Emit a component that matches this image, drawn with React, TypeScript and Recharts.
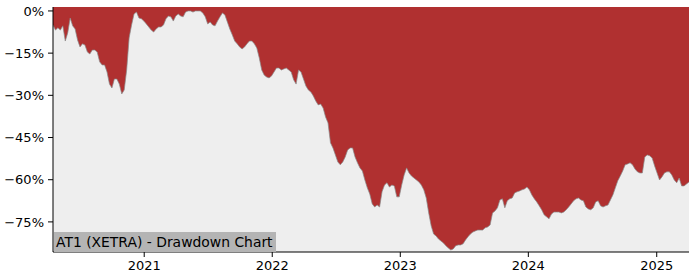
import React from 'react';
import { AreaChart, Area, XAxis, YAxis, CartesianGrid } from 'recharts';

// weekly drawdown readings (%), first week starting START_DATE
const START_DATE = '2020-04-16';
const drawdown = [
  -5.0, -6.8, -6.0, -6.8, -5.3, -10.7, -7.8, -2.5, -5.3, -6.4,
  -10.3, -12.8, -11.7, -12.1, -14.6, -15.3, -13.9, -13.9, -14.6, -18.1,
  -19.2, -19.2, -21.7, -26.0, -27.4, -24.2, -24.2, -26.0, -29.5, -28.1,
  -21.0, -9.6, -5.0, -1.1, -0.4, -2.5, -2.8, -3.6, -4.6, -5.7,
  -6.8, -7.5, -6.4, -5.7, -5.7, -5.0, -2.8, -1.8, -2.1, -3.6,
  -1.8, -1.1, -1.8, -2.1, -0.4, 0, 0, -0.4, 0, 0,
  0, -0.7, -2.1, -4.6, -3.9, -5.0, -5.3, -3.6, -2.1, -0.7,
  -1.4, -3.9, -6.4, -8.5, -10.7, -11.7, -12.8, -13.5, -12.8, -11.7,
  -10.7, -10.7, -11.7, -13.2, -16.7, -21.0, -22.8, -23.5, -23.8, -23.1,
  -21.7, -20.3, -20.3, -21.0, -20.6, -20.3, -21.0, -21.7, -24.5, -26.0,
  -21.0, -21.7, -24.2, -26.7, -28.1, -28.8, -30.2, -32.0, -33.4, -33.1,
  -34.5, -37.7, -39.8, -46.9, -48.7, -51.2, -53.7, -54.7, -53.7, -51.9,
  -49.4, -48.7, -48.7, -51.9, -54.0, -55.8, -56.9, -60.1, -62.9, -65.1,
  -68.6, -69.7, -69.0, -69.7, -64.3, -61.9, -61.1, -62.6, -61.9, -62.2,
  -66.1, -66.1, -61.9, -58.3, -55.8, -57.6, -58.7, -59.4, -60.1, -60.8,
  -61.9, -63.6, -66.5, -71.8, -76.4, -79.3, -80.0, -81.1, -81.8, -82.5,
  -83.5, -84.3, -85.0, -84.6, -83.5, -83.2, -83.2, -82.8, -81.4, -80.3,
  -79.3, -78.6, -78.2, -77.9, -77.9, -77.9, -77.1, -76.8, -76.1, -71.8,
  -71.1, -70.0, -67.2, -66.8, -70.0, -67.5, -66.8, -66.5, -64.7, -64.3,
  -64.0, -63.6, -63.3, -62.6, -63.6, -65.4, -66.8, -67.9, -69.3, -70.7,
  -72.5, -73.2, -73.9, -72.2, -71.5, -71.5, -71.5, -71.8, -71.5, -70.7,
  -69.7, -68.6, -67.5, -66.8, -66.5, -67.2, -67.5, -69.7, -70.4, -70.7,
  -70.0, -67.9, -67.5, -69.3, -69.7, -69.3, -69.0, -67.2, -65.4, -62.9,
  -60.4, -58.7, -56.9, -54.7, -54.4, -54.0, -54.7, -56.2, -57.2, -57.6,
  -57.6, -51.9, -51.2, -51.5, -52.3, -55.1, -57.6, -60.1, -59.0, -57.6,
  -57.2, -57.2, -58.3, -60.1, -61.1, -59.4, -62.2, -62.2, -61.5, -60.8,
];
const yearTicks = ['2021-01-01', '2022-01-01', '2023-01-01', '2024-01-01', '2025-01-01'];
const pctTicks = [0, -15, -30, -45, -60, -75];
const TITLE = 'AT1 (XETRA) - Drawdown Chart';

const DAY = 86400000;
const t0 = Date.parse(START_DATE);
const data = drawdown.map((dd, i) => ({ t: t0 + i * 7 * DAY, dd }));
const xDomain = [data[0].t, data[data.length - 1].t];
const Y_TOP = 1.4;
const yDomain = [-85.7, Y_TOP];

const font = '"DejaVu Sans", sans-serif';
const tickStyle = { fill: '#000', fontSize: 13, fontFamily: font };

export default function App() {
  return (
    <div style={{ position: 'absolute', left: 0, top: 0, width: 700, height: 280, background: '#fff' }}>
      <AreaChart width={700} height={280} data={data} margin={{ top: 7, right: 11, bottom: 0, left: 0 }}>
        <CartesianGrid fill="#eeeeee" horizontal={false} vertical={false} stroke="none" />
        <XAxis
          dataKey="t"
          type="number"
          domain={xDomain}
          ticks={yearTicks.map(d => Date.parse(d))}
          tickFormatter={v => String(new Date(v).getUTCFullYear())}
          tick={tickStyle}
          tickSize={5}
          tickMargin={4}
          height={28}
          axisLine={{ stroke: '#000' }}
          tickLine={{ stroke: '#000' }}
          allowDataOverflow
        />
        <XAxis xAxisId="top" orientation="top" dataKey="t" type="number" domain={xDomain} height={0} tick={false} tickLine={false} axisLine={{ stroke: '#000' }} allowDataOverflow />
        <YAxis
          domain={yDomain}
          ticks={pctTicks}
          tickFormatter={v => `${String(v).replace('-', '\u2212')}%`}
          tick={tickStyle}
          tickSize={5}
          tickMargin={4}
          width={53}
          axisLine={{ stroke: '#000' }}
          tickLine={{ stroke: '#000' }}
          allowDataOverflow
        />
        <YAxis yAxisId="right" orientation="right" domain={yDomain} width={0} tick={false} tickLine={false} axisLine={{ stroke: '#000' }} allowDataOverflow />
        <Area
          type="linear"
          dataKey="dd"
          baseValue={Y_TOP}
          stroke="#8a8a8a"
          strokeWidth={0.7}
          fill="#b03030"
          fillOpacity={1}
          dot={false}
          activeDot={false}
          isAnimationActive={false}
        />
      </AreaChart>
      <div
        style={{
          position: 'absolute', left: 54, top: 232, height: 20, padding: '0 3px 0 2px',
          background: '#b4b4b4', fontFamily: font, fontSize: 13.9, lineHeight: '20px', color: '#000',
          whiteSpace: 'nowrap',
        }}
      >
        {TITLE}
      </div>
    </div>
  );
}
